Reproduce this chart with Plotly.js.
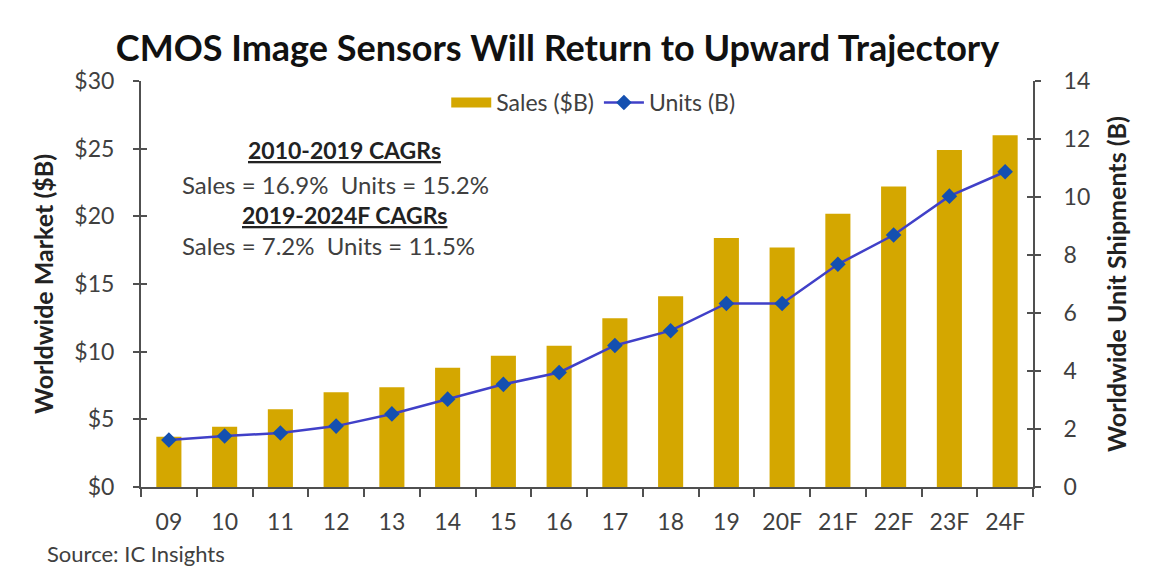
<!DOCTYPE html>
<html>
<head>
<meta charset="utf-8">
<script src="https://cdn.plot.ly/plotly-3.0.1.min.js"></script>
<style>html,body{margin:0;padding:0;background:#fff;}#chart{width:1152px;height:574px;}</style>
</head>
<body>
<div id="chart"></div>
<script>
const years = ["09","10","11","12","13","14","15","16","17","18","19","20F","21F","22F","23F","24F"];
const salesB = [3.72, 4.46, 5.74, 7.0, 7.37, 8.82, 9.7, 10.44, 12.47, 14.1, 18.4, 17.7, 20.2, 22.2, 24.9, 26.0];
const unitsB = [1.62, 1.76, 1.86, 2.1, 2.52, 3.03, 3.54, 3.95, 4.88, 5.39, 6.33, 6.33, 7.68, 8.69, 10.03, 10.87];
const leftTicks = [0,5,10,15,20,25,30];
const leftTickText = ["$0","$5","$10","$15","$20","$25","$30"];
const rightTicks = [0,2,4,6,8,10,12,14];

const FONT = "Lato, 'Open Sans', sans-serif";
const TXT = "#404040";
const AX = "#505050";
const GOLD = "#D4A700";

const traces = [
  {type:"bar", x:years, y:salesB, name:"Sales ($B)", marker:{color:GOLD}, width:0.45, yaxis:"y", showlegend:false},
  // legend swatch for sales (wide rectangle)
  {type:"scatter", mode:"lines", x:[null], y:[null], name:"Sales ($B)", line:{color:GOLD, width:13}, yaxis:"y", hoverinfo:"skip"},
  {type:"scatter", mode:"lines+markers", x:years, y:unitsB, name:"Units (B)", yaxis:"y2",
   line:{color:"#4040C8", width:2.5}, marker:{symbol:"diamond", size:12, color:"#1450B0"}},
  {type:"scatter", x:[years[0]], y:[0], yaxis:"y3", mode:"markers", marker:{opacity:0}, showlegend:false, hoverinfo:"skip"},
  {type:"scatter", x:[years[0]], y:[0], yaxis:"y4", mode:"markers", marker:{opacity:0}, showlegend:false, hoverinfo:"skip"}
];

const layout = {
  width:1152, height:574,
  margin:{l:141, r:119, t:81, b:87},
  paper_bgcolor:"#fff", plot_bgcolor:"#fff",
  font:{family:FONT, color:TXT, size:22},
  title:{text:"<b>CMOS Image Sensors Will Return to Upward Trajectory</b>", x:0.484, xanchor:"center", y:0.916, yanchor:"middle",
         font:{family:FONT, size:36, color:"#111"}},
  showlegend:true,
  legend:{orientation:"h", x:0.507, xanchor:"center", y:1.0, yanchor:"top", font:{size:23, color:TXT}, bgcolor:"rgba(0,0,0,0)", itemwidth:40, tracegroupgap:0},
  xaxis:{type:"category", range:[-0.5, 15.5], autorange:false, showline:true, linecolor:AX, linewidth:2, ticks:"outside", ticklen:8, tickcolor:AX, tickwidth:2,
         tickson:"boundaries", showgrid:false, zeroline:false, tickfont:{size:23, color:TXT}, ticklabelstandoff:13},
  yaxis:{range:[0,30], tickvals:leftTicks, ticktext:leftTickText, showline:true, linecolor:AX, linewidth:2,
         ticks:"outside", ticklen:6, tickcolor:AX, tickwidth:2, showgrid:false, zeroline:false,
         tickfont:{size:23, color:TXT}, ticklabelstandoff:14,
         title:{text:"<b>Worldwide Market ($B)</b>", font:{size:25, color:"#222"}, standoff:14}},
  yaxis2:{range:[0,14], tickvals:rightTicks, overlaying:"y", side:"right", showline:true, linecolor:AX, linewidth:2,
          ticks:"outside", ticklen:6, tickcolor:AX, tickwidth:2, showgrid:false, zeroline:false,
          tickfont:{size:23, color:TXT}, ticklabelstandoff:18,
          title:{text:"<b>Worldwide Unit Shipments (B)</b>", font:{size:25, color:"#222"}, standoff:19}},
  yaxis3:{range:[0,30], tickvals:leftTicks, overlaying:"y", side:"left", showline:false, ticks:"inside", ticklen:6,
          tickcolor:AX, tickwidth:2, showticklabels:false, showgrid:false, zeroline:false},
  yaxis4:{range:[0,14], tickvals:rightTicks, overlaying:"y", side:"right", showline:false, ticks:"inside", ticklen:6,
          tickcolor:AX, tickwidth:2, showticklabels:false, showgrid:false, zeroline:false},
  annotations:[
    {xref:"paper", yref:"paper", x:0.228, y:0.83, xanchor:"center", yanchor:"middle", text:"<b><u>2010-2019 CAGRs</u></b>", showarrow:false, font:{size:23, color:"#222"}},
    {xref:"paper", yref:"paper", x:0.2175, y:0.746, xanchor:"center", yanchor:"middle", text:"Sales = 16.9%  Units = 15.2%", showarrow:false, font:{size:24, color:TXT}},
    {xref:"paper", yref:"paper", x:0.228, y:0.67, xanchor:"center", yanchor:"middle", text:"<b><u>2019-2024F CAGRs</u></b>", showarrow:false, font:{size:23, color:"#222"}},
    {xref:"paper", yref:"paper", x:0.21, y:0.594, xanchor:"center", yanchor:"middle", text:"Sales = 7.2%  Units = 11.5%", showarrow:false, font:{size:24, color:TXT}},
    {xref:"paper", yref:"paper", x:-0.1076, y:-0.1626, xanchor:"left", yanchor:"middle", text:"Source: IC Insights", showarrow:false, font:{size:22, color:TXT}}
  ]
};

Plotly.newPlot("chart", traces, layout, {displayModeBar:false, staticPlot:true});
</script>
</body>
</html>
